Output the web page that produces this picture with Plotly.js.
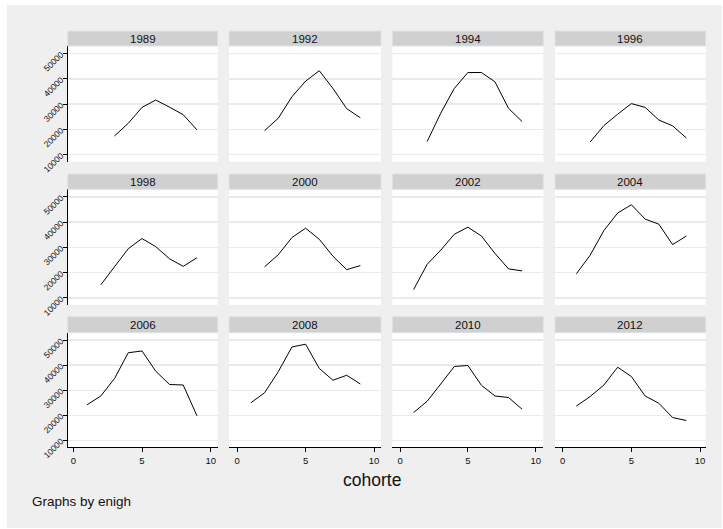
<!DOCTYPE html>
<html>
<head>
<meta charset="utf-8">
<script src="https://cdn.plot.ly/plotly-3.0.1.min.js"></script>
<style>html,body{margin:0;padding:0;background:#fff;}#chart{width:723px;height:529px;}</style>
</head>
<body>
<div id="chart"></div>
<script>
// ---- data ----
const panelTitles = ["1989","1992","1994","1996","1998","2000","2002","2004","2006","2008","2010","2012"];
const x1989 = [3,4,5,6,7,8,9];
const y1989 = [17400,22400,28700,31600,28800,25800,19800];
const x1992 = [2,3,4,5,6,7,8,9];
const y1992 = [19500,24400,32900,39100,43200,36200,28200,24600];
const x1994 = [2,3,4,5,6,7,8,9];
const y1994 = [15200,26400,36200,42500,42500,38800,28300,23100];
const x1996 = [2,3,4,5,6,7,8,9];
const y1996 = [15000,21500,26000,30200,28700,23700,21400,16600];
const x1998 = [2,3,4,5,6,7,8,9];
const y1998 = [15200,22500,29500,33500,30300,25500,22500,25900];
const x2000 = [2,3,4,5,6,7,8,9];
const y2000 = [22300,27100,33900,37600,33200,26500,21200,22800];
const x2002 = [1,2,3,4,5,6,7,8,9];
const y2002 = [13300,23300,28900,35200,38000,34500,27600,21500,20700];
const x2004 = [1,2,3,4,5,6,7,8,9];
const y2004 = [19600,26900,36700,43600,46900,41200,39200,31100,34500];
const x2006 = [1,2,3,4,5,6,7,8,9];
const y2006 = [24200,27700,34700,45000,45700,37600,32300,32100,19800];
const x2008 = [1,2,3,4,5,6,7,8,9];
const y2008 = [25000,29000,37400,47300,48400,38700,34000,36000,32500];
const x2010 = [1,2,3,4,5,6,7,8,9];
const y2010 = [21100,25600,32500,39500,39900,32000,27700,27100,22400];
const x2012 = [1,2,3,4,5,6,7,8,9];
const y2012 = [23700,27500,32100,39200,35500,27700,24800,19100,17900];
const xSeries = [x1989,x1992,x1994,x1996,x1998,x2000,x2002,x2004,x2006,x2008,x2010,x2012];
const ySeries = [y1989,y1992,y1994,y1996,y1998,y2000,y2002,y2004,y2006,y2008,y2010,y2012];
const yTicks = [10000,20000,30000,40000,50000];
const xTicks = [0,5,10];
const xTitle = "cohorte";
const note = "Graphs by enigh";

// ---- layout geometry (pixels) ----
const W = 723, H = 529;
const px = v => v / W;
const py = v => 1 - v / H;
const cols = [[67.7,217.7],[229,381],[392.3,543.3],[555,705.7]];
const colRanges = [[-0.41,10.51],[-0.6,10.51],[-0.57,10.56],[-0.56,10.41]];
const rows = [[46,161.7],[189.3,305],[332.7,447.3]];
const strips = [[31,46],[174,189.3],[316.7,332.7]];
const FONT = "Liberation Sans, Arial, sans-serif";

const traces = [];
const layout = {
  width: W, height: H,
  margin: {l:0,r:0,t:0,b:0},
  paper_bgcolor: "#efefef",
  plot_bgcolor: "#ffffff",
  showlegend: false,
  font: {family: FONT, color: "#111"},
  shapes: [], annotations: []
};

for (let i = 0; i < 12; i++) {
  const r = Math.floor(i / 4), c = i % 4;
  const n = i + 1;
  const xa = "xaxis" + n, ya = "yaxis" + n;
  traces.push({
    x: xSeries[i], y: ySeries[i], type: "scatter", mode: "lines",
    line: {color: "#000", width: 1},
    xaxis: "x" + n, yaxis: "y" + n, hoverinfo: "x+y"
  });
  const bottom = (r === 2);
  layout[xa] = {
    domain: [px(cols[c][0]), px(cols[c][1])],
    range: colRanges[c],
    anchor: "y" + n,
    showgrid: false, zeroline: false,
    showline: bottom, linecolor: "#000", linewidth: 1,
    ticks: bottom ? "outside" : "", ticklen: 4, tickcolor: "#000", tickwidth: 1,
    tickvals: xTicks, showticklabels: bottom,
    tickfont: {size: 9.5, family: FONT, color: "#111"}
  };
  const left = (c === 0);
  layout[ya] = {
    domain: [py(rows[r][1]), py(rows[r][0])],
    range: [7200, 53000],
    anchor: "x" + n,
    showgrid: true, gridcolor: "#eaeaea", gridwidth: 1.5,
    zeroline: false,
    showline: left, linecolor: "#000", linewidth: 1,
    ticks: left ? "outside" : "", ticklen: 4, tickcolor: "#000", tickwidth: 1,
    tickvals: yTicks, ticktext: yTicks.map(String), showticklabels: left,
    tickangle: -45,
    tickfont: {size: 8.5, family: FONT, color: "#111"}
  };
  // strip
  layout.shapes.push({
    type: "rect", xref: "paper", yref: "paper",
    x0: px(cols[c][0]), x1: px(cols[c][1]),
    y0: py(strips[r][1]), y1: py(strips[r][0]),
    fillcolor: "#d0d0d0", line: {color: "#dae4ea", width: 1}
  });
  layout.annotations.push({
    text: panelTitles[i], xref: "paper", yref: "paper",
    x: px((cols[c][0] + cols[c][1]) / 2), y: py((strips[r][0] + strips[r][1]) / 2),
    xanchor: "center", yanchor: "middle", showarrow: false,
    font: {size: 11.5, family: FONT, color: "#111"}
  });
}

// white outer border
[[0,0,W,5],[0,0,7,H],[722,0,W,H],[0,528,W,H]].forEach(b => {
  layout.shapes.push({type:"rect", xref:"paper", yref:"paper",
    x0: px(b[0]), x1: px(b[2]), y0: py(b[3]), y1: py(b[1]),
    fillcolor:"#ffffff", line:{width:0}});
});

layout.annotations.push({
  text: xTitle, xref: "paper", yref: "paper",
  x: px(372), y: py(480), xanchor: "center", yanchor: "middle", showarrow: false,
  font: {size: 17.5, family: FONT, color: "#111"}
});
layout.annotations.push({
  text: note, xref: "paper", yref: "paper",
  x: px(30), y: py(501), xanchor: "left", yanchor: "middle", showarrow: false,
  font: {size: 13.5, family: FONT, color: "#111"}
});

Plotly.newPlot("chart", traces, layout, {displayModeBar: false, staticPlot: true});
</script>
</body>
</html>
